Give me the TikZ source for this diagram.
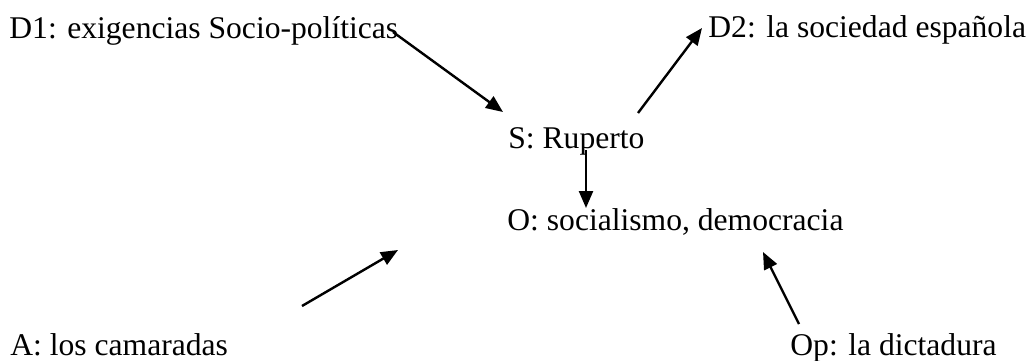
\documentclass[tikz,border=0pt]{standalone}
\usepackage{fontspec}
\setmainfont{Liberation Serif}
\usetikzlibrary{arrows.meta}
\begin{document}
\begin{tikzpicture}[x=0.5pt,y=-0.5pt,
  lbl/.style={anchor=base west,inner sep=0pt,font=\fontsize{15.8}{19}\selectfont},
  arr/.style={line width=1.2pt,-{Triangle[length=8.5pt,width=7pt]}}]
\useasboundingbox (0,0) rectangle (1032,360);
\node[lbl] (d1) at (9,38) {D1: exigencias Socio-políticas};
\node[lbl] (d2) at (708,37) {D2: la sociedad española};
\node[lbl] (s) at (508,148) {S: Ruperto};
\node[lbl] (o) at (507,230) {O: socialismo, democracia};
\node[lbl] (a) at (10,355) {A: los camaradas};
\node[lbl] (op) at (790,355) {Op: la dictadura};
\coordinate (d1s) at (393,32);
\coordinate (d1e) at (503,112);
\coordinate (d2s) at (638,113);
\coordinate (d2e) at (702,28);
\coordinate (ss) at (586,150);
\coordinate (se) at (586,208);
\coordinate (as) at (302,306);
\coordinate (ae) at (398,250);
\coordinate (ops) at (799,324);
\coordinate (ope) at (763,252);
\draw[arr] (d1s) -- (d1e);
\draw[arr] (d2s) -- (d2e);
\draw[arr] (ss) -- (se);
\draw[arr] (as) -- (ae);
\draw[arr] (ops) -- (ope);
\end{tikzpicture}
\end{document}
